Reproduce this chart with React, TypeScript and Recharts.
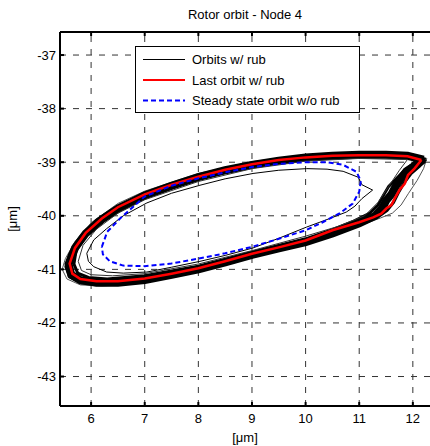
import React from 'react';
import { LineChart, Line, XAxis, YAxis, ReferenceLine, Legend } from 'recharts';

type Pt = { x: number; y: number };
const P = (x: number, y: number): Pt => ({ x, y });

// Axis ticks [μm]
const xTicks = [6, 7, 8, 9, 10, 11, 12];
const yTicks = [-43, -42, -41, -40, -39, -38, -37];

// Legend entries, top to bottom
const legendOrder = ['Orbits w/ rub', 'Last orbit w/ rub', 'Steady state orbit w/o rub'];

// Outer envelope of the rub orbits
const orbitOuter: Pt[] = [
  P(12.26, -38.93), P(12.0, -38.85), P(11.5, -38.83), P(11.0, -38.83), P(10.0, -38.86),
  P(9.0, -38.99), P(8.0, -39.21), P(7.0, -39.54), P(6.5, -39.77), P(6.0, -40.13),
  P(5.7, -40.48), P(5.52, -40.8), P(5.46, -41.0), P(5.55, -41.18), P(5.8, -41.29),
  P(6.2, -41.31), P(6.6, -41.29), P(7.0, -41.24), P(7.5, -41.15), P(8.0, -41.04),
  P(9.0, -40.78), P(10.0, -40.53), P(10.5, -40.37), P(11.0, -40.19), P(11.4, -40.04),
  P(11.62, -39.95), P(11.78, -39.8), P(11.92, -39.58), P(12.08, -39.34), P(12.2, -39.12),
  P(12.26, -38.93),
];

// Dense band of rub orbits
const orbitBand: Pt[] = [
  P(12.2, -38.95), P(11.9, -38.88), P(11.5, -38.86), P(11.0, -38.86), P(10.5, -38.88),
  P(10.0, -38.91), P(9.5, -38.97), P(9.0, -39.05), P(8.5, -39.15), P(8.0, -39.28),
  P(7.5, -39.44), P(7.0, -39.62), P(6.5, -39.87), P(6.2, -40.07), P(5.9, -40.33),
  P(5.7, -40.6), P(5.58, -40.9), P(5.63, -41.1), P(5.8, -41.2), P(6.1, -41.25),
  P(6.5, -41.25), P(7.0, -41.2), P(7.5, -41.1), P(8.0, -41.0), P(8.5, -40.87),
  P(9.0, -40.73), P(9.5, -40.61), P(10.0, -40.49), P(10.5, -40.33), P(11.0, -40.14),
  P(11.3, -40.0), P(11.42, -39.87), P(11.5, -39.72), P(11.6, -39.6), P(11.68, -39.45),
  P(11.78, -39.3), P(11.88, -39.17), P(12.05, -39.06), P(12.2, -38.95),
];

const orbitBandInner: Pt[] = [
  P(12.1, -38.94), P(11.5, -38.9), P(11.0, -38.9), P(10.0, -38.95), P(9.0, -39.08),
  P(8.0, -39.31), P(7.0, -39.66), P(6.5, -39.9), P(6.2, -40.1), P(5.9, -40.38),
  P(5.72, -40.65), P(5.68, -40.9), P(5.75, -41.07), P(5.95, -41.15), P(6.3, -41.18),
  P(7.0, -41.12), P(8.0, -40.94), P(9.0, -40.68), P(10.0, -40.43), P(10.5, -40.26),
  P(10.9, -40.1), P(11.2, -39.95), P(11.35, -39.8), P(11.45, -39.62), P(11.55, -39.45),
  P(11.7, -39.3), P(11.85, -39.15), P(12.0, -39.03), P(12.1, -38.94),
];

const orbitBandOuter: Pt[] = [
  P(12.24, -38.95), P(11.9, -38.86), P(11.5, -38.84), P(11.0, -38.84), P(10.0, -38.88),
  P(9.0, -39.02), P(8.0, -39.25), P(7.0, -39.58), P(6.5, -39.82), P(6.1, -40.08),
  P(5.8, -40.4), P(5.6, -40.72), P(5.53, -40.95), P(5.6, -41.14), P(5.8, -41.25),
  P(6.2, -41.28), P(6.6, -41.27), P(7.0, -41.22), P(8.0, -41.02), P(9.0, -40.76),
  P(10.0, -40.51), P(10.5, -40.35), P(11.0, -40.16), P(11.35, -40.02), P(11.52, -39.9),
  P(11.64, -39.75), P(11.74, -39.55), P(11.84, -39.38), P(11.96, -39.22), P(12.12, -39.08),
  P(12.24, -38.95),
];

const orbitMid: Pt[] = [
  P(11.9, -38.95), P(11.0, -38.93), P(10.0, -38.98), P(9.0, -39.12), P(8.0, -39.36),
  P(7.0, -39.7), P(6.5, -39.95), P(6.1, -40.25), P(5.85, -40.55), P(5.76, -40.85),
  P(5.82, -41.02), P(6.0, -41.1), P(6.4, -41.12), P(7.0, -41.08), P(8.0, -40.9),
  P(9.0, -40.65), P(10.0, -40.38), P(10.6, -40.2), P(11.1, -40.0), P(11.35, -39.75),
  P(11.55, -39.45), P(11.75, -39.15), P(11.9, -38.95),
];

// First rub orbit (inner, with the kink near x = 11.2)
const orbitInner: Pt[] = [
  P(5.92, -40.7), P(6.05, -40.45), P(6.29, -40.24), P(6.6, -40.0), P(7.04, -39.76),
  P(7.5, -39.58), P(8.03, -39.43), P(8.5, -39.31), P(9.02, -39.21), P(9.5, -39.15),
  P(10.02, -39.12), P(10.4, -39.13), P(10.7, -39.17), P(10.98, -39.28), P(11.05, -39.42),
  P(11.25, -39.52), P(11.05, -39.68), P(10.92, -39.82), P(10.76, -39.93), P(10.4, -40.07),
  P(10.02, -40.21), P(9.5, -40.42), P(9.02, -40.6), P(8.5, -40.74), P(8.03, -40.85),
  P(7.5, -40.96), P(7.04, -41.05), P(6.6, -41.07), P(6.29, -41.05), P(6.05, -40.95),
  P(5.95, -40.85), P(5.92, -40.7),
];

// Last orbit with rub
const lastOrbit: Pt[] = [
  P(12.16, -38.96), P(11.9, -38.89), P(11.5, -38.87), P(11.0, -38.87), P(10.5, -38.88),
  P(10.0, -38.91), P(9.5, -38.96), P(9.0, -39.04), P(8.5, -39.14), P(8.0, -39.27),
  P(7.5, -39.42), P(7.0, -39.6), P(6.5, -39.84), P(6.2, -40.05), P(5.9, -40.32),
  P(5.7, -40.6), P(5.6, -40.89), P(5.65, -41.08), P(5.8, -41.18), P(6.1, -41.22),
  P(6.5, -41.22), P(7.0, -41.17), P(7.5, -41.08), P(8.0, -40.98), P(8.5, -40.85),
  P(9.0, -40.71), P(9.5, -40.59), P(10.0, -40.46), P(10.5, -40.27), P(11.0, -40.12),
  P(11.26, -40.03), P(11.41, -39.96), P(11.51, -39.86), P(11.6, -39.8), P(11.66, -39.68),
  P(11.75, -39.52), P(11.85, -39.4), P(11.91, -39.24), P(12.03, -39.12), P(12.16, -38.96),
];

// Steady state orbit without rub
const steadyOrbit: Pt[] = [
  P(6.2, -40.58), P(6.3, -40.3), P(6.54, -40.05), P(7.0, -39.64), P(7.5, -39.44),
  P(8.0, -39.3), P(8.5, -39.19), P(9.0, -39.09), P(9.5, -39.03), P(10.0, -39.0),
  P(10.4, -39.0), P(10.7, -39.05), P(10.95, -39.18), P(11.03, -39.35), P(11.0, -39.55),
  P(10.88, -39.77), P(10.64, -39.95), P(10.3, -40.13), P(10.0, -40.27), P(9.5, -40.43),
  P(9.0, -40.58), P(8.5, -40.7), P(8.0, -40.8), P(7.5, -40.89), P(7.0, -40.94),
  P(6.6, -40.93), P(6.35, -40.85), P(6.22, -40.72), P(6.2, -40.58),
];

const FONT = '"Liberation Sans", Arial, sans-serif';
const FS = 13;
const W = 430;
const H = 446;
const M_TOP = 32;
const Y_AXIS_W = 60;
const X_AXIS_H = 40;
const TICK_IN = 4;
const GRID_DASH = '6 7';
const GRID_COLOR = '#333';
const X_DOMAIN: [number, number] = [5.42, 12.32];
const Y_DOMAIN: [number, number] = [-43.55, -36.57];

const BottomTick = (props: any) => {
  const { x, y, payload } = props;
  return (
    <g>
      <line x1={x} y1={y} x2={x} y2={y - TICK_IN} stroke="#000" strokeWidth={2} />
      <text x={x} y={y + 17} textAnchor="middle" fontSize={FS} fontFamily={FONT} fill="#000">
        {payload.value}
      </text>
    </g>
  );
};

const LeftTick = (props: any) => {
  const { x, y, payload } = props;
  return (
    <g>
      <line x1={x} y1={y} x2={x + TICK_IN} y2={y} stroke="#000" strokeWidth={2} />
      <text x={x - 4} y={y + 4.5} textAnchor="end" fontSize={FS} fontFamily={FONT} fill="#000">
        {payload.value}
      </text>
    </g>
  );
};

// Vertical grid line from the bottom axis up, with an inward tick at the top frame
const VGridLine = (props: any) => {
  const { x1, y1, x2, y2 } = props;
  const top = Math.min(y1, y2);
  const bottom = Math.max(y1, y2);
  return (
    <g>
      <line x1={x1} x2={x2} y1={bottom} y2={top} stroke={GRID_COLOR} strokeWidth={1} strokeDasharray={GRID_DASH} />
      <line x1={x1} x2={x1} y1={top} y2={top + TICK_IN} stroke="#000" strokeWidth={2} />
    </g>
  );
};

// Horizontal grid line from the left axis
const HGridLine = (props: any) => {
  const { x1, y1, x2, y2 } = props;
  const left = Math.min(x1, x2);
  const right = Math.max(x1, x2);
  return <line x1={left} x2={right} y1={y1} y2={y2} stroke={GRID_COLOR} strokeWidth={1} strokeDasharray={GRID_DASH} />;
};

// Top edge of the axes box
const TopFrame = (props: any) => {
  const { x1, y1, x2, y2 } = props;
  return <line x1={x1} x2={x2} y1={y1} y2={y2} stroke="#000" strokeWidth={2} />;
};

const XLabel = (props: any) => {
  const vb = props.viewBox || {};
  return (
    <text x={vb.x + vb.width / 2} y={vb.y + 36} textAnchor="middle" fontSize={FS} fontFamily={FONT} fill="#000">
      [μm]
    </text>
  );
};

const YLabel = (props: any) => {
  const vb = props.viewBox || {};
  const cx = 17;
  const cy = vb.y + vb.height / 2;
  return (
    <text x={cx} y={cy} transform={`rotate(-90 ${cx} ${cy})`} textAnchor="middle" fontSize={FS} fontFamily={FONT} fill="#000">
      [μm]
    </text>
  );
};

const LegendBox = (props: any) => {
  const items = (props.payload || [])
    .filter((p: any) => p.type !== 'none' && legendOrder.includes(p.value))
    .sort((a: any, b: any) => legendOrder.indexOf(a.value) - legendOrder.indexOf(b.value));
  return (
    <div
      style={{
        width: 225,
        height: 67,
        boxSizing: 'border-box',
        border: '1px solid #000',
        background: '#fff',
        position: 'relative',
      }}
    >
      <svg width={223} height={65} style={{ position: 'absolute', left: 0, top: 0 }}>
        {items.map((it: any, i: number) => {
          const cy = 12.5 + i * 20.5;
          const dash = it.payload?.strokeDasharray;
          const sw = Math.min(it.payload?.strokeWidth ?? 1, 2);
          return (
            <g key={i}>
              <line x1={7} x2={49} y1={cy} y2={cy} stroke={it.color} strokeWidth={sw} strokeDasharray={dash} />
              <text x={56} y={cy + 4.5} fontSize={FS} fontFamily={FONT} fill="#000">
                {it.value}
              </text>
            </g>
          );
        })}
      </svg>
    </div>
  );
};

export default function App() {
  return (
    <div style={{ position: 'absolute', left: 0, top: 0, width: W, height: H, background: '#fff' }}>
      <div
        style={{
          position: 'absolute',
          left: 60,
          width: 370,
          top: 7,
          textAlign: 'center',
          fontFamily: FONT,
          fontSize: FS,
          lineHeight: '16px',
          color: '#000',
        }}
      >
        Rotor orbit - Node 4
      </div>
      <LineChart width={W} height={H} margin={{ top: M_TOP, right: 0, left: 0, bottom: 0 }}>
        <XAxis
          xAxisId="b"
          type="number"
          dataKey="x"
          domain={X_DOMAIN}
          ticks={xTicks}
          allowDataOverflow
          height={X_AXIS_H}
          tickSize={0}
          tickMargin={0}
          tick={<BottomTick />}
          axisLine={{ stroke: '#000', strokeWidth: 2 }}
          tickLine={false}
          label={<XLabel />}
        />
        <YAxis
          yAxisId="l"
          type="number"
          dataKey="y"
          domain={Y_DOMAIN}
          ticks={yTicks}
          allowDataOverflow
          width={Y_AXIS_W}
          tickSize={0}
          tickMargin={0}
          tick={<LeftTick />}
          axisLine={{ stroke: '#000', strokeWidth: 2 }}
          tickLine={false}
          label={<YLabel />}
        />
        {xTicks.map((t) => (
          <ReferenceLine key={`vx${t}`} xAxisId="b" yAxisId="l" x={t} shape={<VGridLine />} />
        ))}
        {yTicks.map((t) => (
          <ReferenceLine key={`hy${t}`} xAxisId="b" yAxisId="l" y={t} shape={<HGridLine />} />
        ))}
        <ReferenceLine xAxisId="b" yAxisId="l" y={Y_DOMAIN[1]} shape={<TopFrame />} />
        <Line xAxisId="b" yAxisId="l" data={orbitOuter} dataKey="y" stroke="#555" strokeWidth={1} dot={false} isAnimationActive={false} legendType="none" />
        <Line xAxisId="b" yAxisId="l" data={orbitBandOuter} dataKey="y" stroke="#000" strokeWidth={3} dot={false} isAnimationActive={false} legendType="none" />
        <Line xAxisId="b" yAxisId="l" data={orbitBand} dataKey="y" stroke="#000" strokeWidth={8} dot={false} isAnimationActive={false} legendType="none" />
        <Line xAxisId="b" yAxisId="l" data={orbitBandInner} dataKey="y" stroke="#000" strokeWidth={3} dot={false} isAnimationActive={false} legendType="none" />
        <Line xAxisId="b" yAxisId="l" data={orbitMid} dataKey="y" stroke="#333" strokeWidth={1} dot={false} isAnimationActive={false} legendType="none" />
        <Line xAxisId="b" yAxisId="l" data={orbitInner} dataKey="y" name="Orbits w/ rub" stroke="#000" strokeWidth={1} dot={false} isAnimationActive={false} />
        <Line xAxisId="b" yAxisId="l" data={lastOrbit} dataKey="y" name="Last orbit w/ rub" stroke="#ff0000" strokeWidth={2.5} dot={false} isAnimationActive={false} />
        <Line xAxisId="b" yAxisId="l" data={steadyOrbit} dataKey="y" name="Steady state orbit w/o rub" stroke="#0000ff" strokeWidth={2} strokeDasharray="5 3" dot={false} isAnimationActive={false} />
        <Legend
          layout="vertical"
          align="center"
          verticalAlign="middle"
          content={<LegendBox />}
          wrapperStyle={{ position: 'absolute', left: 135, top: 46, width: 225, height: 67 }}
        />
      </LineChart>
    </div>
  );
}
